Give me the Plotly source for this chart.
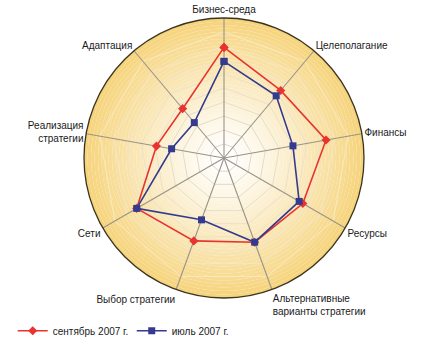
import plotly.graph_objects as go

categories = ["Бизнес-среда", "Целеполагание", "Финансы", "Ресурсы",
              "Альтернативные<br>варианты стратегии", "Выбор стратегии",
              "Сети", "Реализация<br>стратегии", "Адаптация"]
sep_2007 = [7.9, 6.3, 7.4, 6.5, 6.4, 6.3, 7.2, 4.9, 4.6]
jul_2007 = [6.9, 5.8, 5.0, 6.2, 6.4, 4.7, 7.2, 3.8, 3.3]
series_names = ["сентябрь 2007 г.", "июль 2007 г."]
r_max = 10
grid_levels = [1, 2, 3, 4, 5, 6, 7, 8, 9, 10]

n = len(categories)
angles = [i * 360 / n for i in range(n)]

def mix(c1, c2, t):
    return "rgb(%d,%d,%d)" % tuple(round(a + (b - a) * t) for a, b in zip(c1, c2))

fig = go.Figure()

# radial gradient background (concentric rings)
rings = 40
white = (255, 255, 255)
yellow = (246, 211, 122)
fig.add_trace(go.Barpolar(
    r=[r_max / rings] * rings,
    base=[i * r_max / rings for i in range(rings)],
    theta=[0] * rings,
    width=[360] * rings,
    marker=dict(color=[mix(white, yellow, ((i + 0.5) / rings) ** 1.25) for i in range(rings)],
                line=dict(width=0)),
    showlegend=False, hoverinfo="skip"))

# polygonal grid lines
for lv in grid_levels[:-1]:
    t = lv / r_max
    fig.add_trace(go.Scatterpolar(
        r=[lv] * (n + 1), theta=angles + [360], mode="lines",
        line=dict(color=mix((212, 212, 210), (252, 236, 196), t), width=1),
        showlegend=False, hoverinfo="skip"))

# spokes
spoke_r, spoke_t = [], []
for a in angles:
    spoke_r += [0, r_max, None]
    spoke_t += [a, a, None]
fig.add_trace(go.Scatterpolar(
    r=spoke_r, theta=spoke_t, mode="lines",
    line=dict(color="#99948a", width=1.1),
    showlegend=False, hoverinfo="skip", connectgaps=False))

fig.add_trace(go.Scatterpolar(
    r=sep_2007 + sep_2007[:1], theta=angles + angles[:1], mode="lines+markers",
    name=series_names[0],
    line=dict(color="#E8332E", width=1.6),
    marker=dict(symbol="diamond", size=7, color="#E8332E")))
fig.add_trace(go.Scatterpolar(
    r=jul_2007 + jul_2007[:1], theta=angles + angles[:1], mode="lines+markers",
    name=series_names[1],
    line=dict(color="#343B8E", width=1.6),
    marker=dict(symbol="square", size=7, color="#343B8E")))

fig.update_layout(
    width=424, height=350,
    margin=dict(l=0, r=0, t=0, b=0),
    paper_bgcolor="white",
    font=dict(family="Liberation Sans Narrow, Arial Narrow, Liberation Sans, Arial", size=10, color="#1a1a1a"),
    polar=dict(
        domain=dict(x=[(224 - 140) / 424, (224 + 140) / 424], y=[(192 - 140) / 350, (192 + 140) / 350]),
        bgcolor="white",
        gridshape="circular",
        barmode="overlay",
        radialaxis=dict(range=[0, r_max], visible=False),
        angularaxis=dict(
            rotation=90, direction="clockwise",
            tickmode="array", tickvals=angles, ticktext=categories,
            showline=True, linecolor="#3a3322", linewidth=1.3,
            showgrid=False,
            ticks="", layer="above traces"),
    ),
    legend=dict(orientation="h", x=0.03, y=0.055, xanchor="left", yanchor="middle",
                font=dict(size=10), bgcolor="rgba(0,0,0,0)", itemwidth=30,
                entrywidth=74, entrywidthmode="pixels"),
)

fig.write_html("out.html")
